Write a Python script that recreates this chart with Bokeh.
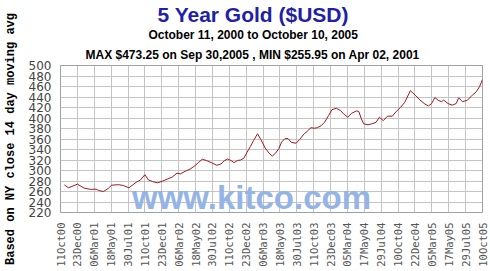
import math
from bokeh.plotting import figure
from bokeh.models import Title, FixedTicker, Label, Range1d
from bokeh.embed import file_html
from bokeh.resources import INLINE

# Tick labels (every 73 days from 11 Oct 2000)
tick_labels = ["11Oct00", "23Dec00", "06Mar01", "18May01", "30Jul01", "11Oct01",
               "23Dec01", "06Mar02", "18May02", "30Jul02", "11Oct02", "23Dec02",
               "06Mar03", "18May03", "30Jul03", "11Oct03", "23Dec03", "05Mar04",
               "17May04", "29Jul04", "10Oct04", "22Dec04", "05Mar05", "17May05",
               "29Jul05", "10Oct05"]
tick_days = [0, 73, 146, 219, 292, 365, 438, 511, 584, 657, 730, 803, 876,
             949, 1022, 1095, 1168, 1241, 1314, 1387, 1460, 1533, 1606, 1679,
             1752, 1825]
y_ticks = [220, 240, 260, 280, 300, 320, 340, 360, 380, 400, 420, 440, 460, 480, 500]

# Series: days since 11 Oct 2000, 14-day moving average price ($USD)
days = [17, 35, 73, 102, 130, 154, 165, 186, 207, 221, 250, 271, 296, 327, 346,
        365, 380, 398, 419, 440, 461, 483, 504, 518, 539, 560, 581, 596, 613,
        631, 652, 676, 694, 708, 723, 737, 751, 765, 779, 793, 807, 821, 835,
        852, 867, 885, 902, 916, 930, 944, 956, 970, 984, 998, 1019, 1033, 1054,
        1068, 1083, 1097, 1111, 1128, 1142, 1160, 1174, 1193, 1210, 1224, 1242,
        1259, 1280, 1290, 1301, 1311, 1330, 1351, 1365, 1379, 1396, 1414, 1435,
        1452, 1471, 1489, 1513, 1534, 1555, 1576, 1591, 1605, 1619, 1633, 1647,
        1657, 1676, 1694, 1711, 1722, 1739, 1760, 1781, 1798, 1812, 1825]
prices = [272.5, 267, 274, 266.5, 264, 264.5, 262, 260, 266, 272, 273, 271.5,
          267, 277.5, 282, 292, 282, 279, 276.5, 279.5, 283.5, 287.5, 295, 293.5,
          298.5, 302.5, 309, 315, 321.5, 319, 315, 310, 312.5, 318.5, 322, 319,
          315, 319, 320, 323.5, 335, 345.5, 357, 370, 358.5, 343, 333, 327.5, 333,
          341.5, 354, 360.5, 361, 353.5, 352, 358.5, 370, 375, 381.5, 380.5,
          381.5, 385.5, 392, 405, 416, 418.5, 414.5, 408, 401.5, 409, 413.5, 412.5,
          398.5, 389, 387, 389.5, 392, 401.5, 395, 403.5, 403.5, 412.5, 420.5, 430,
          452, 443.5, 434, 426.5, 423, 427.5, 439, 434, 431, 434, 427.5, 424.5,
          427.5, 438.5, 431, 434, 443.5, 450, 459.5, 473.25]

title_main = "5 Year Gold ($USD)"
title_range = "October 11, 2000 to October 10, 2005"
title_minmax = "MAX $473.25 on Sep 30,2005 , MIN $255.95 on Apr 02, 2001"

p = figure(width=490, height=271, output_backend="svg", toolbar_location=None,
           x_range=Range1d(0, 1825), y_range=Range1d(220, 500),
           min_border_left=51, min_border_right=8, min_border_bottom=59,
           min_border_top=10, title=None)
p.background_fill_color = "white"
p.border_fill_color = "white"
p.outline_line_color = "#a0a0a0"

sub2 = Title(text=title_minmax, align="left", offset=25, text_font="Liberation Sans",
             text_font_size="12px", text_font_style="bold", text_color="black", standoff=8)
sub1 = Title(text=title_range, align="left", offset=88, text_font="Liberation Sans",
             text_font_size="12px", text_font_style="bold", text_color="black", standoff=0)
main = Title(text=title_main, align="left", offset=97, text_font="Liberation Sans",
             text_font_size="21px", text_font_style="bold", text_color="#1f1fa8", standoff=0)
p.add_layout(sub2, "above")
p.add_layout(sub1, "above")
p.add_layout(main, "above")

# watermark
wm = Label(x=826, y=248, text="www.kitco.com", text_font="Liberation Sans",
           text_font_size="33px", text_font_style="bold", text_color="#94b4e6",
           text_align="center", text_baseline="middle", level="underlay")
p.add_layout(wm)

p.line(days, prices, line_color="#a31818", line_width=1)

# axes
p.xaxis.ticker = FixedTicker(ticks=tick_days)
p.xaxis.major_label_overrides = {d: lab for d, lab in zip(tick_days, tick_labels)}
p.xaxis.major_label_orientation = math.pi / 2
p.xaxis.major_label_text_font = "DejaVu Sans Mono"
p.xaxis.major_label_text_font_size = "10.5px"
p.xaxis.major_label_text_color = "#555555"
p.xaxis.major_label_standoff = 4
p.xaxis.major_tick_line_color = None
p.xaxis.minor_tick_line_color = None
p.xaxis.axis_line_color = None

p.yaxis.ticker = FixedTicker(ticks=y_ticks)
p.yaxis.major_label_text_font = "DejaVu Sans"
p.yaxis.major_label_text_font_size = "12px"
p.yaxis.major_label_text_color = "#444444"
p.yaxis.major_label_standoff = 3
p.yaxis.major_tick_line_color = None
p.yaxis.minor_tick_line_color = None
p.yaxis.axis_line_color = None
p.yaxis.axis_label = "Based on NY close 14 day moving avg"
p.yaxis.axis_label_text_font = "Liberation Mono"
p.yaxis.axis_label_text_font_size = "12px"
p.yaxis.axis_label_text_font_style = "bold"
p.yaxis.axis_label_text_color = "black"
p.yaxis.axis_label_standoff = 8

p.xgrid.grid_line_color = "#c4c4c4"
p.ygrid.grid_line_color = "#c4c4c4"

open("out.html", "w").write(file_html(p, INLINE))
